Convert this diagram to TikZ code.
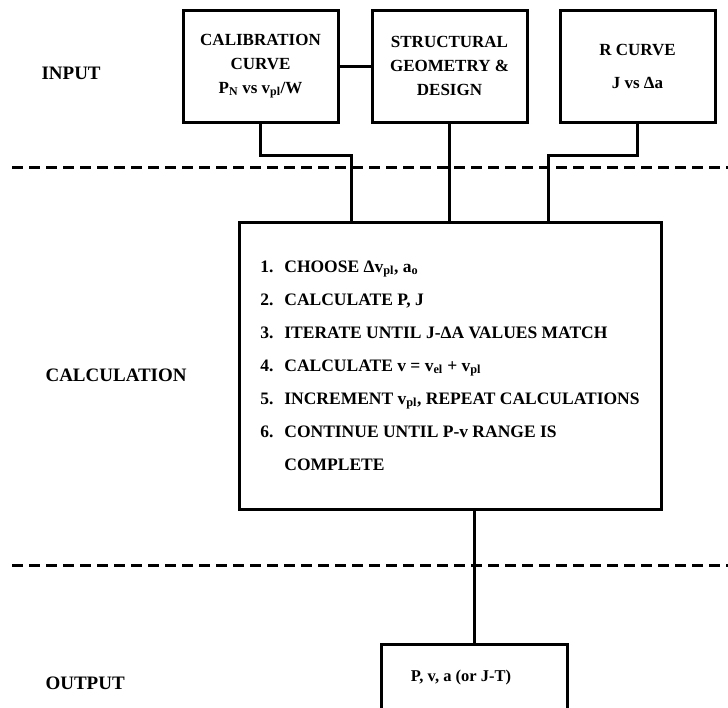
\documentclass[tikz,border=0pt]{standalone}
\usepackage{fontspec}
\setmainfont{Liberation Serif}
\usetikzlibrary{positioning}
\newcommand\itm[1]{\makebox[24pt][l]{#1}}

\begin{document}
\begin{tikzpicture}[x=1pt,y=-1pt,
   box/.style={draw,line width=3pt,minimum width=155pt,minimum height=112pt,
     align=center,inner sep=0pt,font=\bfseries\fontsize{17}{24}\selectfont},
   stage/.style={anchor=west,font=\bfseries\fontsize{19}{20}\selectfont},
   wire/.style={line width=3pt},
   sep/.style={line width=3pt,dash pattern=on 11pt off 6pt}]
   \useasboundingbox (0,0) rectangle (728,707);
   \clip (0,0) rectangle (728,707);
   % input boxes
   \node[box] (cal) at (260.5,66) {CALIBRATION\\CURVE\\P\textsubscript{N} vs v\textsubscript{pl}/W};
   \node[box] (geo) at (449.5,66) {STRUCTURAL\\GEOMETRY \&\\DESIGN};
   \node[box] (rc)  at (637.5,66) {R CURVE\\[9pt]J vs Δa};
   % calculation box
   \node[draw,wire,minimum width=422pt,minimum height=287pt,align=left,
     inner sep=0pt,font=\bfseries\fontsize{17.5}{33}\selectfont] (calc) at (450,365.5)
     {\itm{1.}CHOOSE Δv\textsubscript{pl}, a\textsubscript{o}\\
      \itm{2.}CALCULATE P, J\\
      \itm{3.}ITERATE UNTIL J-ΔA VALUES MATCH\\
      \itm{4.}CALCULATE v = v\textsubscript{el} + v\textsubscript{pl}\\
      \itm{5.}INCREMENT v\textsubscript{pl}, REPEAT CALCULATIONS\\
      \itm{6.}CONTINUE UNTIL P-v RANGE IS\\
      \itm{}COMPLETE};
   % output box
   \node[draw,wire,minimum width=186pt,minimum height=66pt,anchor=north,
     font=\bfseries\fontsize{16.5}{20}\selectfont] (out) at (474,643)
     {P, v, a (or J-T)\kern26pt\relax};
   % stage labels
   \node[stage] (inl)  at (38,73)  {INPUT};
   \node[stage] (clcl) at (42,375) {CALCULATION};
   \node[stage] (outl) at (42,683) {OUTPUT};
   % separators
   \draw[sep] (12,167) -- (728,167);
   \draw[sep] (12,565) -- (728,565);
   % connectors
   \coordinate (jl) at (351,155);
   \coordinate (jr) at (548,155);
   \draw[wire] (cal.east) -- (geo.west);
   \draw[wire] (cal.south) |- (jl) -- (jl |- calc.north);
   \draw[wire] (geo.south) -- (geo.south |- calc.north);
   \draw[wire] (rc.south) |- (jr) -- (jr |- calc.north);
   \draw[wire] (calc.south -| out.north) -- (out.north);
\end{tikzpicture}
\end{document}
